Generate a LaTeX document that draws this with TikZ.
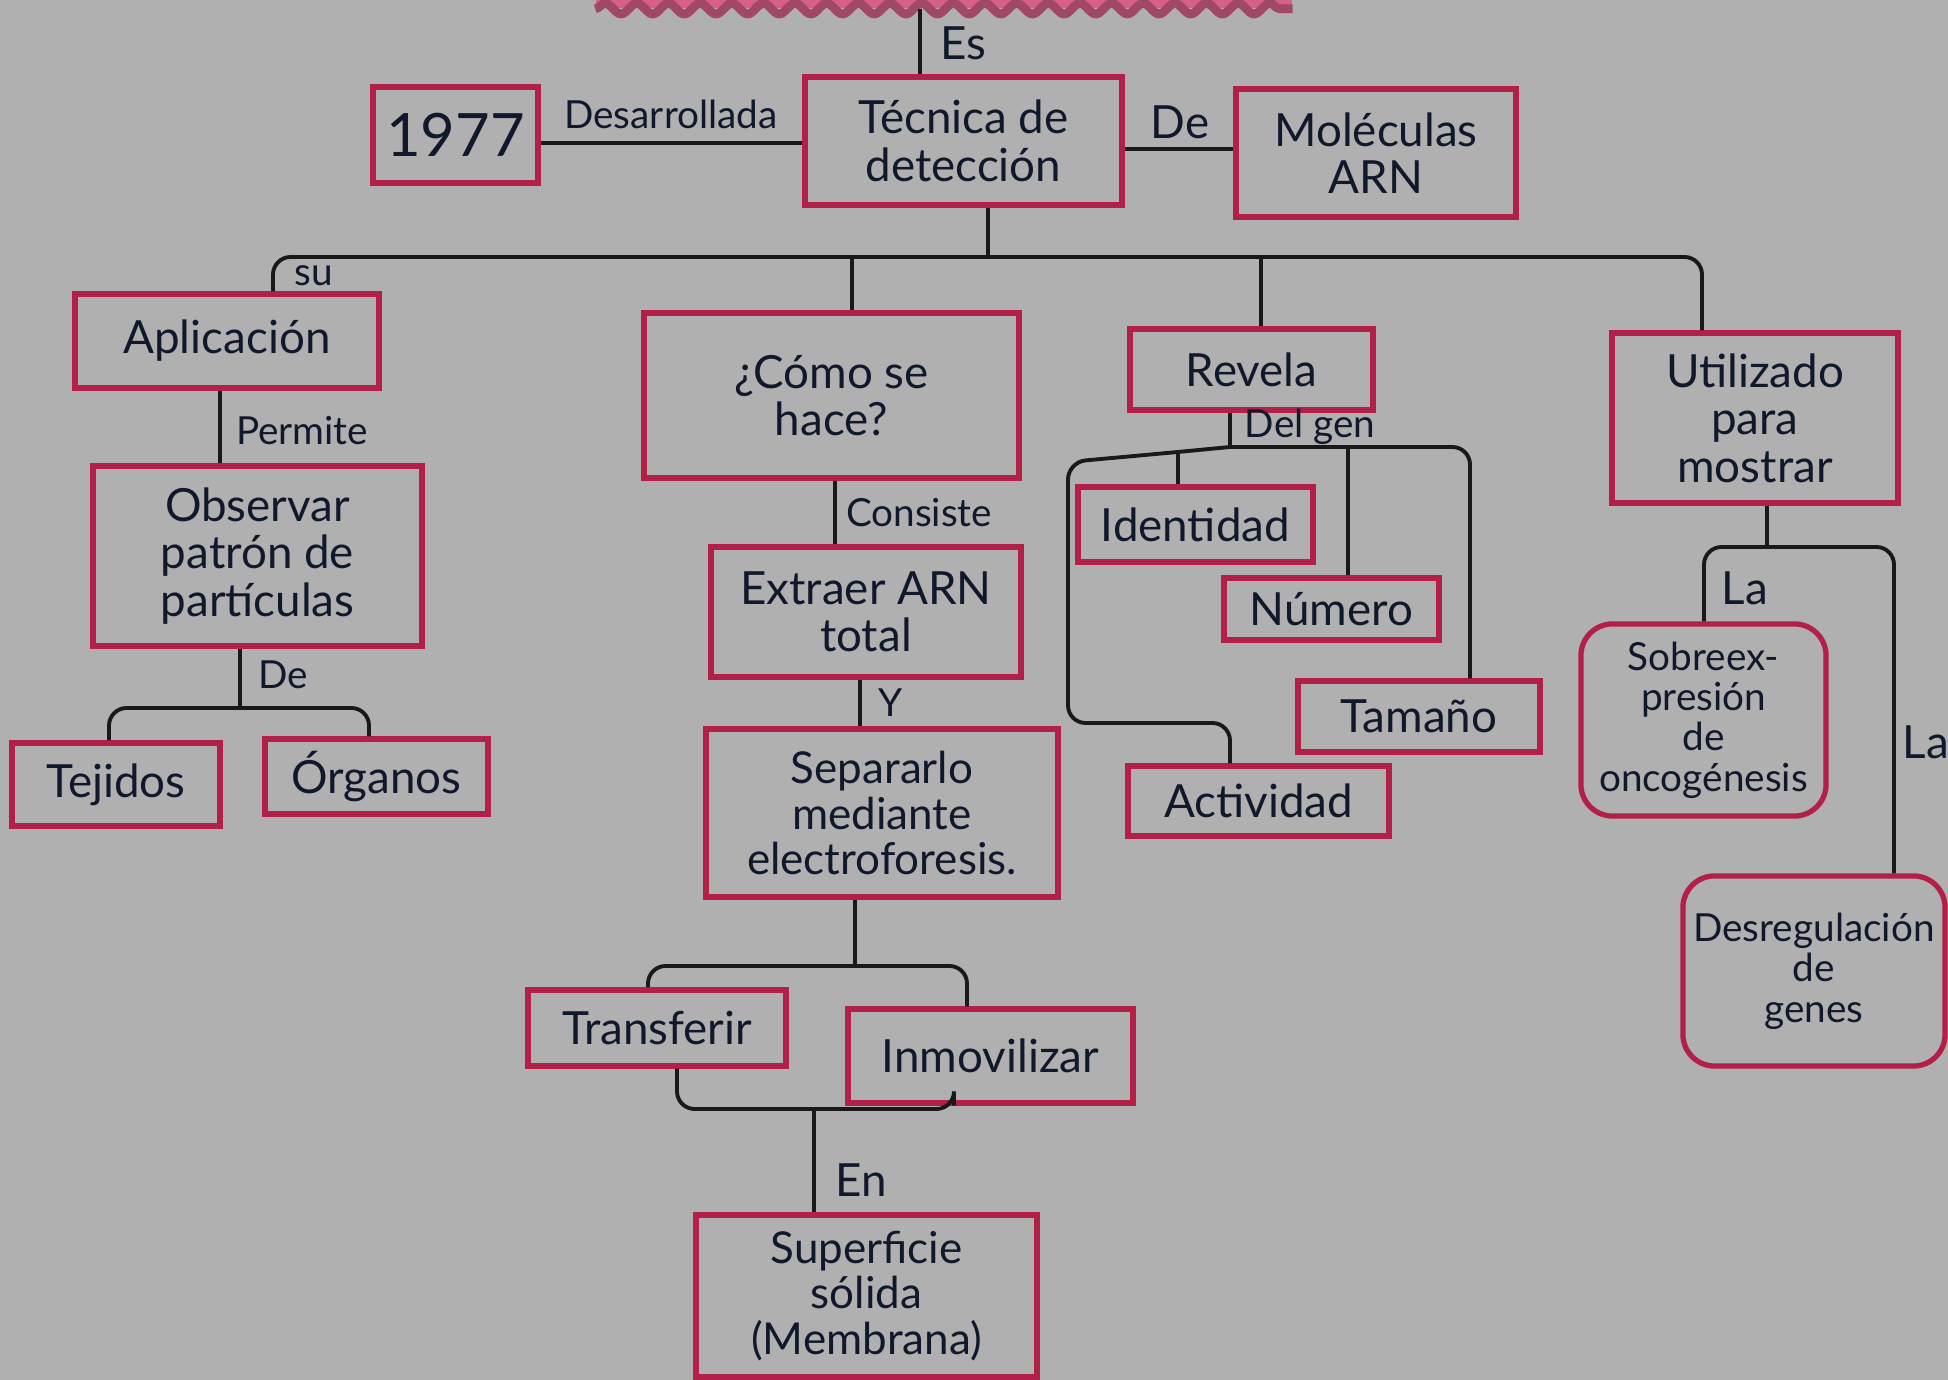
\documentclass[tikz,border=0pt]{standalone}
\usepackage{fontspec}
\setmainfont{Lato}
\usepackage{tikz}
\usetikzlibrary{calc, fit, decorations.pathmorphing, backgrounds}

\definecolor{fondo}{RGB}{176,176,176}
\definecolor{rojo}{RGB}{178,32,72}
\definecolor{tinta}{RGB}{16,24,44}
\definecolor{rosa}{RGB}{214,96,136}

\tikzset{
  caja/.style={draw=rojo, line width=1.5pt, text=tinta, align=center, inner sep=0pt,
    font=\fontsize{13}{13.5}\selectfont},
  media/.style={font=\fontsize{12.5}{13}\selectfont},
  chica/.style={font=\fontsize{11}{11.5}\selectfont},
  redonda/.style={rounded corners=9pt},
  enlace/.style={draw=black!90, line width=1.1pt, rounded corners=5pt},
  etiqueta/.style={text=tinta, inner sep=1pt, font=\fontsize{11}{11}\selectfont},
}

\begin{document}
\begin{tikzpicture}[x=0.01cm, y=-0.01cm]
    % fondo y recorte
    \fill[fondo] (0,0) rectangle (1948,1380);
    \useasboundingbox (0,0) rectangle (1948,1380);

    % titulo cortado arriba
    \node[fill=rosa, inner sep=0pt, fit={(596,0) (1292,8)}] (banda) {};
    \draw[rosa!75!black, line width=2.5pt, decorate,
          decoration={snake, amplitude=1.5pt, segment length=9pt}]
          (banda.south west) -- (banda.south east);

    % fila superior
    \node[caja, minimum width=3.17cm, minimum height=1.28cm] (tecnica) at (963.5,141) {Técnica de\\detección};
    \node[caja, font=\fontsize{17}{17}\selectfont, minimum width=1.65cm, minimum height=0.96cm] (anio) at (455.5,135) {1977};
    \node[caja, minimum width=2.80cm, minimum height=1.28cm] (arn) at (1376,153) {Moléculas\\ARN};

    % rama aplicacion
    \node[caja, minimum width=3.04cm, minimum height=0.94cm] (aplic) at (227,341) {Aplicación};
    \node[caja, minimum width=3.29cm, minimum height=1.80cm] (observar) at (257.5,556) {Observar\\patrón de\\partículas};
    \node[caja, minimum width=2.08cm, minimum height=0.83cm] (tejidos) at (116,784.5) {Tejidos};
    \node[caja, minimum width=2.23cm, minimum height=0.75cm] (organos) at (376.5,776.5) {Órganos};

    % rama como se hace
    \node[caja, minimum width=3.75cm, minimum height=1.65cm] (como) at (831.5,395.5) {¿Cómo se\\hace?};
    \node[caja, minimum width=3.10cm, minimum height=1.30cm] (extraer) at (866,612) {Extraer ARN\\total};
    \node[caja, media, minimum width=3.52cm, minimum height=1.68cm] (separar) at (882,813) {Separarlo\\mediante\\electroforesis.};
    \node[caja, minimum width=2.58cm, minimum height=0.76cm] (transf) at (657,1028) {Transferir};
    \node[caja, minimum width=2.85cm, minimum height=0.94cm] (inmov) at (990.5,1056) {Inmovilizar};
    \node[caja, media, minimum width=3.41cm, minimum height=1.62cm] (superf) at (866.5,1296) {Superficie\\sólida\\(Membrana)};

    % rama revela
    \node[caja, minimum width=2.43cm, minimum height=0.81cm] (revela) at (1251.5,369.5) {Revela};
    \node[caja, minimum width=2.35cm, minimum height=0.75cm] (identidad) at (1195.5,524.5) {Identidad};
    \node[caja, minimum width=2.15cm, minimum height=0.62cm] (numero) at (1331.5,609) {Número};
    \node[caja, minimum width=2.42cm, minimum height=0.71cm] (tamano) at (1419,716.5) {Tamaño};
    \node[caja, minimum width=2.61cm, minimum height=0.70cm] (actividad) at (1258.5,801) {Actividad};

    % rama utilizado
    \node[caja, minimum width=2.86cm, minimum height=1.70cm] (utiliz) at (1755,418) {Utilizado\\para\\mostrar};
    \node[caja, chica, redonda, minimum width=2.45cm, minimum height=1.92cm] (sobre) at (1703.5,720) {Sobreex-\\presión\\de\\oncogénesis};
    \node[caja, chica, redonda, minimum width=2.62cm, minimum height=1.90cm] (desreg) at (1814,971) {Desregulación\\de\\genes};

    % puntos de union
    \coordinate (bus) at (988,257);
    \coordinate (bus-i) at (273,257);
    \coordinate (bus-d) at (1702,257);
    \coordinate (f1) at (240,708);
    \coordinate (f2) at (855,966);
    \coordinate (f3) at (814,1109);
    \coordinate (f4) at (1230,447);
    \coordinate (f5) at (1178,452);
    \coordinate (f6) at (1767,547);

    % enlaces de arriba
    \draw[enlace] (banda.south -| 920,0) -- (tecnica.north -| 920,0);
    \draw[enlace] (anio.east |- 0,143) -- (tecnica.west |- 0,143);
    \draw[enlace] (tecnica.east |- 0,149) -- (arn.west |- 0,149);
    \draw[enlace] (tecnica.south -| bus) -- (bus);
    \draw[enlace] (aplic.north -| bus-i) -- (bus-i) -- (bus-d) -- (utiliz.north -| bus-d);
    \draw[enlace] (como.north -| 852,0) -- (bus -| 852,0);
    \draw[enlace] (revela.north -| 1261,0) -- (bus -| 1261,0);

    % enlaces aplicacion
    \draw[enlace] (aplic.south -| 220,0) -- (observar.north -| 220,0);
    \draw[enlace] (observar.south -| f1) -- (f1);
    \draw[enlace] (tejidos.north -| 109,0) |- (f1) -| (organos.north -| 369,0);

    % enlaces como se hace
    \draw[enlace] (como.south -| 835,0) -- (extraer.north -| 835,0);
    \draw[enlace] (extraer.south -| 860,0) -- (separar.north -| 860,0);
    \draw[enlace] (separar.south -| f2) -- (f2);
    \draw[enlace] (transf.north -| 648,0) |- (f2) -| (inmov.north -| 967,0);
    \draw[enlace] (transf.south -| 677,0) |- (f3) -| (inmov.south -| 954,0);
    \draw[enlace] (f3) -- (superf.north -| f3);

    % enlaces revela
    \draw[enlace] (revela.south -| f4) -- (f4);
    \draw[enlace] (f4) -| (tamano.north -| 1470,0);
    \draw[enlace] (numero.north -| 1348,0) -- (f4 -| 1348,0);
    \draw[enlace] (f4) -- (f5) -- (1068,462) -- (1068,723) -- (1230,723) -- (actividad.north -| 1230,0);
    \draw[enlace] (f5) -- (identidad.north -| f5);

    % enlaces utilizado
    \draw[enlace] (utiliz.south -| f6) -- (f6);
    \draw[enlace] (sobre.north -| 1704,0) |- (f6) -| (desreg.north -| 1894,0);

    % etiquetas de los enlaces
    \node[etiqueta, font=\fontsize{13}{13}\selectfont] (l-es) at (963,43) {Es};
    \node[etiqueta] (l-desarr) at (671,114) {Desarrollada};
    \node[etiqueta, font=\fontsize{13}{13}\selectfont] (l-de) at (1180,122) {De};
    \node[etiqueta] (l-su) at (314,276) {su};
    \node[etiqueta] (l-permite) at (302,431) {Permite};
    \node[etiqueta] (l-de2) at (283,675) {De};
    \node[etiqueta] (l-consiste) at (919,513) {Consiste};
    \node[etiqueta] (l-y) at (891,703) {Y};
    \node[etiqueta, font=\fontsize{13}{13}\selectfont] (l-en) at (861,1180) {En};
    \node[etiqueta] (l-delgen) at (1310,427) {Del gen};
    \node[etiqueta, font=\fontsize{13}{13}\selectfont] (l-la) at (1745,588) {La};
    \node[etiqueta, font=\fontsize{13}{13}\selectfont] (l-la2) at (1926,742) {La};
\end{tikzpicture}
\end{document}
